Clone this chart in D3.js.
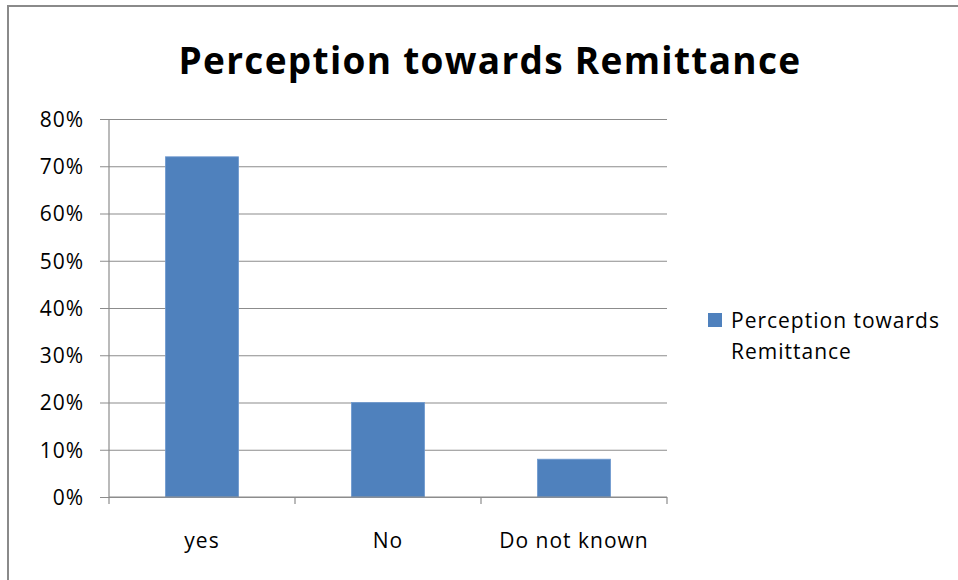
<!DOCTYPE html>
<html>
<head>
<meta charset="utf-8">
<script src="https://cdn.jsdelivr.net/npm/d3@7"></script>
<style>
  html, body { margin: 0; padding: 0; background: #fff; }
  svg { display: block; }
  text { font-family: "Open Sans", sans-serif; fill: #000; font-variant-ligatures: none; }
</style>
</head>
<body>
<svg id="chart" width="958" height="580"></svg>
<script>
const categories = ["yes", "No", "Do not known"];
const values = [0.72, 0.20, 0.08];
const yTicks = [0, 0.1, 0.2, 0.3, 0.4, 0.5, 0.6, 0.7, 0.8];
const seriesName = "Perception towards Remittance";
const legendLines = ["Perception towards", "Remittance"];

const svg = d3.select("#chart");
const W = 958, H = 580;
const plot = { left: 109, right: 667, top: 119, bottom: 497 };
const barColor = "#4F81BD";
const gridColor = "#8c8c8c";
const bodySize = 21;
const bodySpacing = 1;

// outer frame (top and left edges visible)
svg.append("path")
  .attr("d", `M8,${H} L8,6 L${W},6`)
  .attr("fill", "none")
  .attr("stroke", "#8a8a8a")
  .attr("stroke-width", 2);

// title
svg.append("text")
  .attr("x", 490)
  .attr("y", 74)
  .attr("text-anchor", "middle")
  .attr("font-size", 37)
  .attr("font-weight", "bold")
  .attr("letter-spacing", 1.3)
  .text(seriesName);

const x = d3.scaleBand()
  .domain(categories)
  .range([plot.left, plot.right])
  .paddingInner(0.607)
  .paddingOuter(0.3035);

const y = d3.scaleLinear()
  .domain([0, 0.8])
  .range([plot.bottom, plot.top]);

// horizontal gridlines with left tick stubs
const yAxis = d3.axisLeft(y)
  .tickValues(yTicks)
  .tickSize(-(plot.right - plot.left))
  .tickFormat(d3.format(".0%"));

const gy = svg.append("g")
  .attr("transform", `translate(${plot.left},0)`)
  .call(yAxis);
gy.select(".domain").remove();
gy.selectAll(".tick line")
  .attr("x1", -9)
  .attr("stroke", gridColor)
  .attr("stroke-width", 1.2);
gy.selectAll(".tick text")
  .attr("font-size", bodySize)
  .attr("letter-spacing", bodySpacing)
  .attr("fill", "#000")
  .attr("dy", "0.35em")
  .attr("x", -25);

// vertical axis line
svg.append("line")
  .attr("x1", plot.left).attr("x2", plot.left)
  .attr("y1", plot.top).attr("y2", plot.bottom)
  .attr("stroke", gridColor)
  .attr("stroke-width", 1.2);

// bars
svg.append("g")
  .selectAll("rect")
  .data(values)
  .join("rect")
  .attr("x", (d, i) => x(categories[i]))
  .attr("y", d => y(d))
  .attr("width", x.bandwidth())
  .attr("height", d => y(0) - y(d))
  .attr("fill", barColor)
  .attr("stroke", "#6f99cf")
  .attr("stroke-width", 0.8);

// category axis with boundary ticks
const step = x.step();
const boundaries = d3.range(categories.length + 1).map(i => plot.left + i * step);
svg.append("line")
  .attr("x1", plot.left).attr("x2", plot.right)
  .attr("y1", plot.bottom).attr("y2", plot.bottom)
  .attr("stroke", gridColor)
  .attr("stroke-width", 1.2);
svg.append("g")
  .selectAll("line")
  .data(boundaries)
  .join("line")
  .attr("x1", d => d).attr("x2", d => d)
  .attr("y1", plot.bottom).attr("y2", plot.bottom + 7)
  .attr("stroke", gridColor)
  .attr("stroke-width", 1.2);
svg.append("g")
  .selectAll("text")
  .data(categories)
  .join("text")
  .attr("x", d => x(d) + x.bandwidth() / 2)
  .attr("y", 548)
  .attr("text-anchor", "middle")
  .attr("font-size", bodySize)
  .attr("letter-spacing", bodySpacing)
  .text(d => d);

// legend
const lg = svg.append("g");
lg.append("rect")
  .attr("x", 708).attr("y", 313)
  .attr("width", 14).attr("height", 14)
  .attr("fill", barColor);
lg.selectAll("text")
  .data(legendLines)
  .join("text")
  .attr("x", 731)
  .attr("y", (d, i) => 328 + i * 31)
  .attr("font-size", bodySize)
  .attr("letter-spacing", bodySpacing)
  .text(d => d);
</script>
</body>
</html>
